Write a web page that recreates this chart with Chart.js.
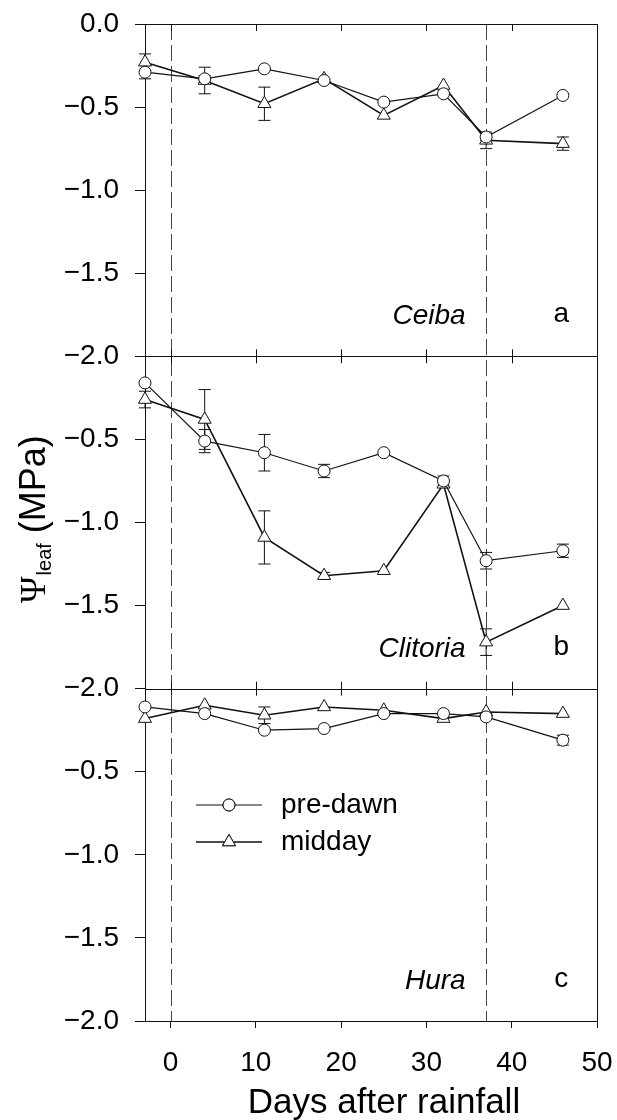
<!DOCTYPE html>
<html>
<head>
<meta charset="utf-8">
<script src="https://cdn.jsdelivr.net/npm/chart.js@4.4.0/dist/chart.umd.min.js"></script>
<style>
body { margin: 0; background: #fff; }
#wrap { width: 617px; height: 1120px; }
</style>
</head>
<body>
<div id="wrap"><canvas id="myChart" width="617" height="1120"></canvas></div>
<script>
// sampling days and axis ticks
var days = [-3, 4, 11, 18, 25, 32, 37, 46];
var xTicks = [0, 10, 20, 30, 40, 50];
var yTicks = [0, -0.5, -1, -1.5, -2];
var rainLines = [0, 37];
var seriesNames = ["pre-dawn", "midday"];
var panelNames = ["Ceiba", "Clitoria", "Hura"];
var panelLetters = ["a", "b", "c"];

// leaf water potential (MPa), with error bar half-lengths
var ceibaPre = [-0.29, -0.33, -0.27, -0.34, -0.47, -0.42, -0.68, -0.43];
var ceibaPreErr = [0.04, 0.02, 0, 0, 0, 0, 0.02, 0];
var ceibaMid = [-0.23, -0.34, -0.48, -0.33, -0.55, -0.37, -0.70, -0.72];
var ceibaMidErr = [0.05, 0.08, 0.10, 0, 0, 0, 0.05, 0.04];

var clitoriaPre = [-0.16, -0.51, -0.58, -0.69, -0.58, -0.75, -1.23, -1.17];
var clitoriaPreErr = [0, 0.07, 0.11, 0.04, 0, 0.03, 0.05, 0.04];
var clitoriaMid = [-0.26, -0.38, -1.09, -1.32, -1.29, -0.77, -1.72, -1.50];
var clitoriaMidErr = [0.05, 0.18, 0.16, 0.02, 0, 0, 0.08, 0];

var huraPre = [-0.11, -0.15, -0.25, -0.24, -0.15, -0.15, -0.17, -0.31];
var huraPreErr = [0, 0, 0, 0, 0, 0, 0, 0.03];
var huraMid = [-0.18, -0.10, -0.16, -0.11, -0.13, -0.18, -0.14, -0.15];
var huraMidErr = [0, 0, 0.05, 0, 0, 0, 0, 0];

var panelAxes = ["yA", "yB", "yC"];
var panelPre = [ceibaPre, clitoriaPre, huraPre];
var panelPreErr = [ceibaPreErr, clitoriaPreErr, huraPreErr];
var panelMid = [ceibaMid, clitoriaMid, huraMid];
var panelMidErr = [ceibaMidErr, clitoriaMidErr, huraMidErr];

var SANS = '"Liberation Sans", Arial, sans-serif';

function toPoints(vals) {
    return days.map(function(d, i) { return {x: d, y: vals[i]}; });
}

var preStyle = {pointStyle: "circle", pointRadius: 6, borderWidth: 1.2};
var midStyle = {pointStyle: "triangle", pointRadius: 7.5, borderWidth: 1.6};

var datasets = [];
for (var p = 0; p < 3; p++) {
    datasets.push({
        label: seriesNames[0],
        data: toPoints(panelPre[p]),
        errors: panelPreErr[p],
        yAxisID: panelAxes[p],
        borderColor: "#111",
        borderWidth: preStyle.borderWidth,
        pointStyle: preStyle.pointStyle,
        pointRadius: preStyle.pointRadius,
        pointBorderWidth: 1,
        pointBackgroundColor: "#fff",
        pointBorderColor: "#111",
        tension: 0,
        clip: false
    });
    datasets.push({
        label: seriesNames[1],
        data: toPoints(panelMid[p]),
        errors: panelMidErr[p],
        yAxisID: panelAxes[p],
        borderColor: "#111",
        borderWidth: midStyle.borderWidth,
        pointStyle: midStyle.pointStyle,
        pointRadius: midStyle.pointRadius,
        pointBorderWidth: 1,
        pointBackgroundColor: "#fff",
        pointBorderColor: "#111",
        tension: 0,
        clip: false
    });
}

function fmtY(v) {
    var s = Math.abs(v).toFixed(1);
    return v < 0 ? "\u2212" + s : s;
}

function yScale(id, weight, showTop) {
    return {
        type: "linear",
        position: "left",
        stack: "panels",
        stackWeight: 1,
        weight: weight,
        min: -2,
        max: 0,
        afterBuildTicks: function(scale) {
            scale.ticks = yTicks.map(function(v) { return {value: v}; });
        },
        afterFit: function(scale) {
            scale.width = 145;
            scale.paddingTop = 0;
            scale.paddingBottom = 0;
        },
        ticks: {
            autoSkip: false,
            padding: 16,
            color: "#000",
            font: {family: SANS, size: 28},
            callback: function(v) {
                if (v === 0 && !showTop) return "";
                return fmtY(v);
            }
        },
        grid: {drawOnChartArea: false, tickLength: 10, color: "#111", lineWidth: 1},
        border: {color: "#111", width: 1}
    };
}

// error bars, drawn under the markers
var errorBarPlugin = {
    id: "errorBars",
    beforeDatasetsDraw: function(chart) {
        var ctx = chart.ctx;
        ctx.save();
        ctx.strokeStyle = "#111";
        ctx.lineWidth = 1;
        chart.data.datasets.forEach(function(ds, i) {
            var meta = chart.getDatasetMeta(i);
            var xs = chart.scales[meta.xAxisID];
            var ys = chart.scales[meta.yAxisID];
            ds.data.forEach(function(pt, j) {
                var e = ds.errors[j];
                if (!e) return;
                var px = xs.getPixelForValue(pt.x);
                var y1 = ys.getPixelForValue(pt.y + e);
                var y2 = ys.getPixelForValue(pt.y - e);
                ctx.beginPath();
                ctx.moveTo(px, y1); ctx.lineTo(px, y2);
                ctx.moveTo(px - 6, y1); ctx.lineTo(px + 6, y1);
                ctx.moveTo(px - 6, y2); ctx.lineTo(px + 6, y2);
                ctx.stroke();
            });
        });
        ctx.restore();
    }
};

// frame, panel borders, inner ticks, rainfall lines
var framePlugin = {
    id: "frame",
    beforeDatasetsDraw: function(chart) {
        var ctx = chart.ctx;
        var a = chart.chartArea;
        var xs = chart.scales.x;
        ctx.save();
        // dashed rainfall markers
        ctx.strokeStyle = "#444";
        ctx.lineWidth = 1;
        ctx.setLineDash([16, 5]);
        rainLines.forEach(function(d) {
            var px = Math.round(xs.getPixelForValue(d)) + 0.5;
            ctx.beginPath();
            ctx.moveTo(px, a.top);
            ctx.lineTo(px, a.bottom);
            ctx.stroke();
        });
        ctx.setLineDash([]);
        ctx.strokeStyle = "#111";
        ctx.lineWidth = 1;
        var top = Math.round(a.top) + 0.5;
        var right = Math.round(a.right) + 0.5;
        ctx.beginPath();
        ctx.moveTo(a.left, top); ctx.lineTo(right, top);
        ctx.moveTo(right, top); ctx.lineTo(right, a.bottom);
        ctx.stroke();
        // boundaries between panels
        var bounds = [chart.scales.yB.top, chart.scales.yC.top];
        bounds.forEach(function(b) {
            var yb = Math.round(b) + 0.5;
            ctx.beginPath();
            ctx.moveTo(a.left, yb); ctx.lineTo(right, yb);
            ctx.stroke();
        });
        xTicks.forEach(function(v) {
            var px = Math.round(xs.getPixelForValue(v)) + 0.5;
            ctx.beginPath();
            ctx.moveTo(px, a.top); ctx.lineTo(px, a.top + 7);
            bounds.forEach(function(b) {
                ctx.moveTo(px, b - 7); ctx.lineTo(px, b + 7);
            });
            ctx.stroke();
        });
        ctx.restore();
    },
    afterDraw: function(chart) {
        var ctx = chart.ctx;
        var a = chart.chartArea;
        var xs = chart.scales.x;
        ctx.save();
        ctx.fillStyle = "#000";
        // species names and panel letters
        panelAxes.forEach(function(id, i) {
            var ys = chart.scales[id];
            var py = ys.getPixelForValue(-1.76);
            ctx.textBaseline = "middle";
            ctx.font = "italic 28px " + SANS;
            ctx.textAlign = "right";
            ctx.fillText(panelNames[i], xs.getPixelForValue(34.6), py);
            ctx.font = "28px " + SANS;
            ctx.textAlign = "center";
            ctx.fillText(panelLetters[i], xs.getPixelForValue(45.8), py - 2);
        });
        // legend inside the lower panel
        var yc = chart.scales.yC;
        var lx = a.left + 51;
        var styles = [preStyle, midStyle];
        seriesNames.forEach(function(name, i) {
            var ly = yc.getPixelForValue(-0.7) + i * 37;
            var st = styles[i];
            ctx.strokeStyle = "#111";
            ctx.lineWidth = st.borderWidth;
            ctx.beginPath();
            ctx.moveTo(lx, ly); ctx.lineTo(lx + 66, ly);
            ctx.stroke();
            ctx.lineWidth = 1;
            ctx.fillStyle = "#fff";
            Chart.helpers.drawPoint(ctx, {pointStyle: st.pointStyle, radius: st.pointRadius, borderWidth: 1}, lx + 33, ly);
            ctx.fill();
            ctx.stroke();
            ctx.fillStyle = "#000";
            ctx.font = "28px " + SANS;
            ctx.textAlign = "left";
            ctx.textBaseline = "middle";
            ctx.fillText(name, lx + 85, ly);
        });
        // x axis title
        ctx.font = "35px " + SANS;
        ctx.textAlign = "center";
        ctx.textBaseline = "alphabetic";
        ctx.fillText("Days after rainfall", 384, 1113);
        // y axis title, rotated
        ctx.translate(45, 603);
        ctx.rotate(-Math.PI / 2);
        ctx.textAlign = "left";
        ctx.font = '36px "Liberation Serif", serif';
        ctx.fillText("\u03A8", 0, 0);
        var w = ctx.measureText("\u03A8").width;
        ctx.font = "20px " + SANS;
        ctx.fillText("leaf", w + 1, 6);
        w += 1 + ctx.measureText("leaf").width;
        ctx.font = "36px " + SANS;
        ctx.fillText(" (MPa)", w, 0);
        ctx.restore();
    }
};

document.addEventListener("DOMContentLoaded", function() {
    var canvas = document.getElementById("myChart");
    new Chart(canvas, {
        type: "line",
        data: {datasets: datasets},
        plugins: [framePlugin, errorBarPlugin],
        options: {
            responsive: false,
            animation: false,
            layout: {padding: {top: 24, right: 20, left: 0, bottom: 0}},
            plugins: {legend: {display: false}, tooltip: {enabled: false}},
            scales: {
                x: {
                    type: "linear",
                    position: "bottom",
                    min: -3,
                    max: 50,
                    afterBuildTicks: function(scale) {
                        scale.ticks = xTicks.map(function(v) { return {value: v}; });
                    },
                    afterFit: function(scale) {
                        scale.height = 99;
                        scale.paddingLeft = 0;
                        scale.paddingRight = 0;
                    },
                    ticks: {
                        autoSkip: false,
                        maxRotation: 0,
                        padding: 18,
                        color: "#000",
                        font: {family: SANS, size: 28}
                    },
                    grid: {drawOnChartArea: false, tickLength: 7, color: "#111", lineWidth: 1},
                    border: {color: "#111", width: 1}
                },
                yC: yScale("yC", 1, false),
                yB: yScale("yB", 2, false),
                yA: yScale("yA", 3, true)
            }
        }
    });
});
</script>
</body>
</html>
